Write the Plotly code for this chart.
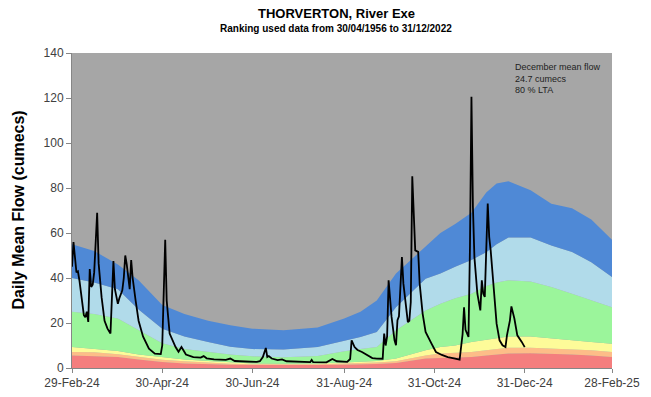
import plotly.graph_objects as go

# Percentile band boundaries (cumecs) through the year
band_dates = ["2024-02-29", "2024-03-15", "2024-03-31", "2024-04-14", "2024-04-30",
              "2024-05-15", "2024-05-31", "2024-06-15", "2024-06-30", "2024-07-21",
              "2024-08-13", "2024-08-31", "2024-09-11", "2024-09-22", "2024-10-05",
              "2024-10-25", "2024-11-04", "2024-11-14", "2024-11-25", "2024-12-05",
              "2024-12-12", "2024-12-20", "2025-01-04", "2025-01-18", "2025-02-01",
              "2025-02-14", "2025-02-28"]
red_top = [5.6, 5.2, 4.9, 3.8, 2.7, 2.0, 1.6, 1.4, 1.3, 1.2, 1.3, 1.5, 1.6, 1.8, 2.2,
           4.2, 4.5, 4.8, 4.9, 5.6, 6.0, 6.4, 6.6, 6.4, 6.0, 5.6, 4.9]
orange_top = [7.1, 7.0, 6.1, 5.0, 3.7, 3.0, 2.4, 1.9, 1.7, 1.6, 1.7, 2.0, 2.2, 2.4, 3.0,
              5.6, 6.4, 6.8, 7.1, 7.9, 8.5, 9.0, 9.0, 8.6, 8.3, 7.9, 7.1]
yellow_top = [9.3, 8.6, 7.6, 6.0, 4.9, 3.8, 3.1, 2.4, 2.0, 1.9, 2.0, 2.5, 2.8, 3.1, 4.2,
              7.9, 9.3, 10.0, 11.6, 12.5, 13.3, 14.0, 14.0, 13.0, 12.3, 11.6, 10.8]
green_top = [25, 24, 22, 17, 11, 8.5, 7.1, 6.0, 5.2, 4.8, 5.3, 7.5, 8.5, 9.3, 16.8,
             25.6, 28.6, 31, 33, 36.5, 38, 39, 38.5, 36, 33, 30, 27]
lightblue_top = [40, 38, 35, 26, 17.5, 14, 11.6, 9.5, 8.4, 8.2, 9.3, 12.3, 13.8, 16, 27,
                 39.7, 42, 45, 48, 51.5, 55, 58, 58, 54.5, 51.6, 47, 40.4]
blue_top = [55, 52, 46, 39, 28, 24, 21, 19, 17.5, 16.8, 18, 22, 25, 30, 42,
            54, 60, 64, 69, 78, 82, 83, 79, 73, 71, 66, 57]

# Observed daily mean flow, 2024
flow_dates = ["2024-02-29", "2024-03-01", "2024-03-03", "2024-03-04", "2024-03-05",
              "2024-03-08", "2024-03-09", "2024-03-10", "2024-03-11", "2024-03-12",
              "2024-03-13", "2024-03-14", "2024-03-15", "2024-03-17", "2024-03-18",
              "2024-03-20", "2024-03-22", "2024-03-24", "2024-03-26", "2024-03-28",
              "2024-03-29", "2024-03-31", "2024-04-01", "2024-04-03", "2024-04-04",
              "2024-04-05", "2024-04-06", "2024-04-08", "2024-04-09", "2024-04-10",
              "2024-04-12", "2024-04-14", "2024-04-17", "2024-04-21", "2024-04-25",
              "2024-04-29", "2024-04-30", "2024-05-02", "2024-05-03", "2024-05-05",
              "2024-05-09", "2024-05-11", "2024-05-13", "2024-05-16", "2024-05-21",
              "2024-05-26", "2024-05-28", "2024-05-30", "2024-06-04", "2024-06-12",
              "2024-06-15", "2024-06-18", "2024-06-25", "2024-07-03", "2024-07-05",
              "2024-07-07", "2024-07-09", "2024-07-10", "2024-07-11", "2024-07-13",
              "2024-07-17", "2024-07-20", "2024-07-23", "2024-07-28", "2024-08-02",
              "2024-08-08", "2024-08-09", "2024-08-10", "2024-08-19", "2024-08-23",
              "2024-08-26", "2024-09-02", "2024-09-04", "2024-09-05", "2024-09-07",
              "2024-09-09", "2024-09-12", "2024-09-16", "2024-09-19", "2024-09-22",
              "2024-09-26", "2024-09-27", "2024-09-28", "2024-09-29", "2024-09-30",
              "2024-10-02", "2024-10-04", "2024-10-05", "2024-10-06", "2024-10-07",
              "2024-10-09", "2024-10-10", "2024-10-12", "2024-10-13", "2024-10-14",
              "2024-10-15", "2024-10-16", "2024-10-18", "2024-10-20", "2024-10-21",
              "2024-10-23", "2024-10-25", "2024-10-29", "2024-11-01", "2024-11-05",
              "2024-11-09", "2024-11-14", "2024-11-17", "2024-11-19", "2024-11-20",
              "2024-11-21", "2024-11-23", "2024-11-24", "2024-11-25", "2024-11-26",
              "2024-11-27", "2024-11-29", "2024-12-01", "2024-12-02", "2024-12-03",
              "2024-12-04", "2024-12-06", "2024-12-07", "2024-12-08", "2024-12-10",
              "2024-12-12", "2024-12-14", "2024-12-16", "2024-12-18", "2024-12-19",
              "2024-12-21", "2024-12-22", "2024-12-24", "2024-12-26", "2024-12-29",
              "2024-12-31"]
flow = [45, 56, 42.5, 43, 39,
        23.5, 22.5, 25, 20.5, 44,
        36, 37, 42.5, 69, 46.5,
        31.5, 21, 17.5, 15.3, 47.5,
        35, 28.5, 31, 34.5, 40,
        50, 46, 35, 48, 40,
        30, 21, 14, 8.6, 6.4,
        6.2, 10, 57, 30, 15.3,
        9.3, 7.2, 9.3, 6.0, 4.8,
        4.6, 5.3, 4.3, 3.8, 3.6,
        4.2, 3.1, 2.9, 2.7, 3.0,
        4.9, 8.9, 4.9, 5.3, 4.2,
        3.5, 3.8, 3.0, 2.8, 2.6,
        2.6, 3.6, 2.6, 2.5, 4.0,
        3.0, 2.7, 4.0, 12.3, 9.3,
        8.0, 7.1, 5.6, 4.4, 4.2,
        4.1, 15.3, 10, 14, 39,
        22.7, 12.3, 10.1, 21.2, 23,
        49.3, 37.5, 25.6, 20.4, 21,
        29.3, 85.2, 52.3, 51.6, 37.5,
        24.2, 16, 10.8, 7.1, 5.8,
        4.8, 4.2, 3.7, 15, 27,
        17, 13.8, 54, 120.5, 71.6,
        49.3, 33, 25.6, 39, 33,
        31.6, 73.1, 58.2, 52.3, 36,
        19.7, 12.3, 10.1, 9.3, 14.5,
        21.2, 27.4, 22, 14.5, 11.6,
        9.3]

tick_dates = ["2024-02-29", "2024-04-30", "2024-06-30", "2024-08-31",
              "2024-10-31", "2024-12-31", "2025-02-28"]
tick_labels = ["29-Feb-24", "30-Apr-24", "30-Jun-24", "31-Aug-24",
               "31-Oct-24", "31-Dec-24", "28-Feb-25"]

bands = [
    (red_top, "#f47e7e"),
    (orange_top, "#fdbd88"),
    (yellow_top, "#fdfb99"),
    (green_top, "#9bf59b"),
    (lightblue_top, "#b1dbea"),
    (blue_top, "#4f89d6"),
]

fig = go.Figure()
for i, (vals, colour) in enumerate(bands):
    fig.add_trace(go.Scatter(
        x=band_dates, y=vals, mode="lines", line=dict(width=0, color=colour),
        fill="tozeroy" if i == 0 else "tonexty", fillcolor=colour,
        hoverinfo="skip", showlegend=False))

fig.add_trace(go.Scatter(
    x=flow_dates, y=flow, mode="lines",
    line=dict(color="black", width=1.8), showlegend=False))

font_family = "Liberation Sans, Arial, sans-serif"

fig.update_layout(
    width=651, height=397,
    margin=dict(l=72, r=39, t=53, b=29),
    paper_bgcolor="white",
    plot_bgcolor="#a6a6a6",
    font=dict(family=font_family, size=12, color="#404040"),
    xaxis=dict(
        type="date", range=["2024-02-29", "2025-02-28"],
        tickvals=tick_dates, ticktext=tick_labels,
        ticks="outside", ticklen=4, tickcolor="#868686",
        showline=True, linecolor="#868686", linewidth=1,
        showgrid=False, zeroline=False, automargin=False,
        tickfont=dict(size=12, color="#404040"),
    ),
    yaxis=dict(
        range=[0, 140], dtick=20,
        ticks="outside", ticklen=5, tickcolor="#868686",
        showline=True, linecolor="#868686", linewidth=1,
        showgrid=False, zeroline=False, automargin=False,
        tickfont=dict(size=12, color="#404040"),
    ),
    annotations=[
        dict(text="<b>THORVERTON, River Exe</b>", xref="paper", yref="paper",
             x=0.489, y=1.124, xanchor="center", yanchor="middle", showarrow=False,
             font=dict(size=13, color="black", family=font_family)),
        dict(text="<b>Ranking used data from 30/04/1956 to 31/12/2022</b>",
             xref="paper", yref="paper", x=0.489, y=1.079,
             xanchor="center", yanchor="middle", showarrow=False,
             font=dict(size=10, color="black", family=font_family)),
        dict(text="<b>Daily Mean Flow (cumecs)</b>", xref="paper", yref="paper",
             x=-0.1, y=0.5, xanchor="center", yanchor="middle", textangle=-90,
             showarrow=False, font=dict(size=16, color="black", family=font_family)),
        dict(text="December mean flow<br>24.7 cumecs<br>80 % LTA",
             xref="paper", yref="paper", x=0.817, y=0.978,
             xanchor="left", yanchor="top", align="left", showarrow=False,
             font=dict(size=9, color="#222222", family=font_family)),
    ],
)

fig.write_html("out.html")
